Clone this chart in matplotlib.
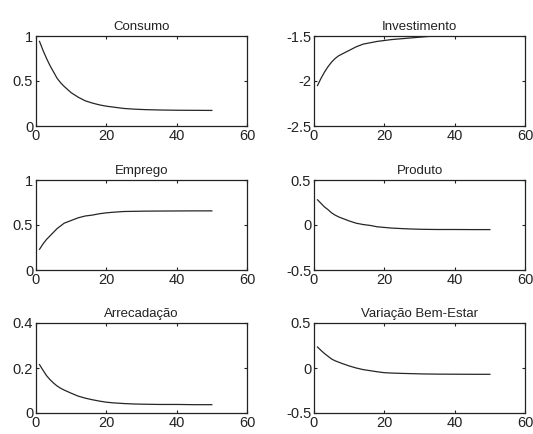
import matplotlib
matplotlib.use("Agg")
import matplotlib.pyplot as plt

periods = [1, 2, 3, 4, 5, 6, 7, 8, 10, 12, 14, 16, 18, 20, 22, 25, 28, 31, 35, 40, 45, 50]

consumo = [0.94, 0.84, 0.75, 0.67, 0.60, 0.53, 0.48, 0.44, 0.37, 0.32, 0.28, 0.255, 0.235,
           0.22, 0.21, 0.195, 0.187, 0.182, 0.178, 0.175, 0.174, 0.173]
investimento = [-2.05, -1.97, -1.90, -1.84, -1.79, -1.75, -1.72, -1.70, -1.66, -1.62, -1.59,
                -1.575, -1.56, -1.55, -1.54, -1.53, -1.52, -1.51, -1.497, -1.49, -1.487, -1.485]
emprego = [0.23, 0.29, 0.34, 0.38, 0.42, 0.46, 0.49, 0.52, 0.55, 0.58, 0.60, 0.61, 0.625,
           0.635, 0.642, 0.65, 0.652, 0.654, 0.655, 0.656, 0.657, 0.657]
produto = [0.28, 0.24, 0.20, 0.17, 0.135, 0.11, 0.09, 0.075, 0.045, 0.02, 0.005, -0.005,
           -0.02, -0.027, -0.034, -0.04, -0.045, -0.048, -0.05, -0.05, -0.051, -0.051]
arrecadacao = [0.215, 0.19, 0.166, 0.148, 0.133, 0.12, 0.11, 0.102, 0.088, 0.075, 0.066,
               0.059, 0.053, 0.048, 0.045, 0.042, 0.04, 0.039, 0.038, 0.038, 0.037, 0.037]
bem_estar = [0.233, 0.195, 0.16, 0.13, 0.10, 0.08, 0.065, 0.05, 0.023, 0.0, -0.018, -0.03,
             -0.042, -0.052, -0.056, -0.06, -0.063, -0.066, -0.068, -0.069, -0.07, -0.07]

titles = ["Consumo", "Investimento", "Emprego", "Produto", "Arrecadação", "Variação Bem-Estar"]
series = [consumo, investimento, emprego, produto, arrecadacao, bem_estar]
ylims = [(0, 1), (-2.5, -1.5), (0, 1), (-0.5, 0.5), (0, 0.4), (-0.5, 0.5)]
yticks = [[0, 0.5, 1], [-2.5, -2, -1.5], [0, 0.5, 1], [-0.5, 0, 0.5], [0, 0.2, 0.4], [-0.5, 0, 0.5]]
yticklabels = [["0", "0.5", "1"], ["-2.5", "-2", "-1.5"], ["0", "0.5", "1"],
               ["-0.5", "0", "0.5"], ["0", "0.2", "0.4"], ["-0.5", "0", "0.5"]]
xticks = [0, 20, 40, 60]

plt.rcParams['font.family'] = ['Liberation Sans', 'DejaVu Sans']

W, H = 533, 434
fig = plt.figure(figsize=(W / 100, H / 100), dpi=100)
fig.patch.set_facecolor('white')

lefts = [36 / W, 314 / W]
width = 211 / W
bottoms = [(H - 126) / H, (H - 270) / H, (H - 413) / H]
height = 90 / H

for i in range(6):
    r, c = divmod(i, 2)
    ax = fig.add_axes([lefts[c], bottoms[r], width, height])
    ax.plot(periods, series[i], color='#262626', lw=0.9)
    ax.set_xlim(0, 60)
    ax.set_ylim(*ylims[i])
    ax.set_xticks(xticks)
    ax.set_xticklabels([str(t) for t in xticks])
    ax.set_yticks(yticks[i])
    ax.set_yticklabels(yticklabels[i])
    ax.tick_params(direction='in', length=2.5, width=0.8, top=True, right=True,
                   labelsize=10.5, pad=2, colors='#222222')
    for s in ax.spines.values():
        s.set_linewidth(0.9)
        s.set_color('#222222')
    ax.set_title(titles[i], fontsize=9.5, pad=4, color='#222222')

fig.savefig("out.png", dpi=100, facecolor='white')
